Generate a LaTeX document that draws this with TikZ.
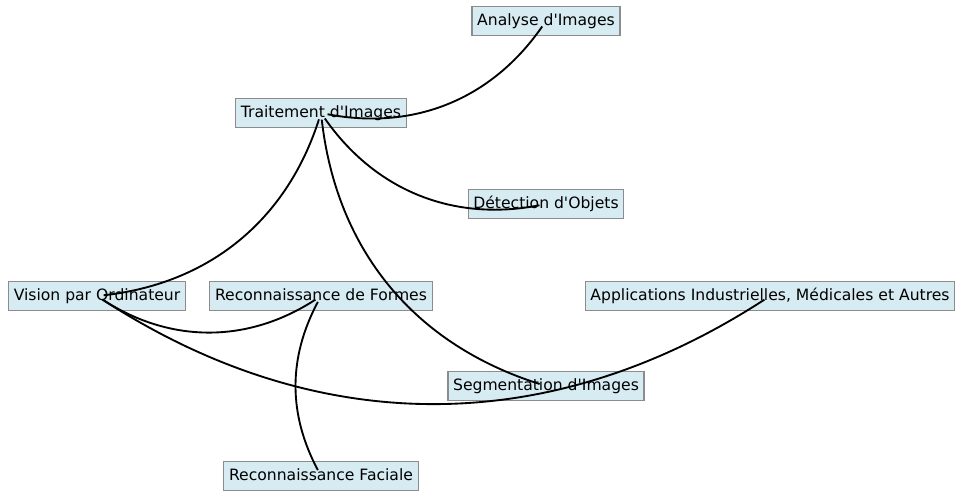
\documentclass[tikz,border=0pt]{standalone}
\usepackage{fontspec}
\setmainfont{DejaVu Sans}[Ligatures=TeXOff]
\usetikzlibrary{calc}
\definecolor{boxfill}{HTML}{D6EBF2}
\definecolor{boxline}{HTML}{8C8C8C}
\begin{document}
\begin{tikzpicture}[x=0.75pt,y=0.75pt,
  topic/.style={draw=boxline,fill=boxfill,line width=0.9pt,
    font=\fontsize{11.7}{13}\selectfont,
    inner xsep=3.9pt,inner ysep=0pt,text height=8.9pt,text depth=2.6pt,
    minimum height=21.5pt},
  link/.style={black,line width=1.4pt,shorten <=5pt,shorten >=5pt}]
\useasboundingbox (0,0) rectangle (956,-492);
% topic boxes
\node[topic] (ana) at (546,-21)  {Analyse d'Images};
\node[topic] (tra) at (321,-113) {Traitement d'Images};
\node[topic] (det) at (546,-204) {Détection d'Objets};
\node[topic] (vis) at (97,-296)  {Vision par Ordinateur};
\node[topic] (rdf) at (321,-296) {Reconnaissance de Formes};
\node[topic] (app) at (770,-296) {Applications Industrielles, Médicales et Autres};
\node[topic] (seg) at (546,-386) {Segmentation d'Images};
\node[topic] (fac) at (321,-476) {Reconnaissance Faciale};
% curved links, centre to centre, drawn above the boxes
\draw[link] (tra.center) to[bend right=33] (ana.center);
\draw[link] (tra.center) to[bend right=33] (det.center);
\draw[link] (vis.center) to[bend right=33] (tra.center);
\draw[link] (tra.center) to[bend right=33] (seg.center);
\draw[link] (vis.center) to[bend right=33] (rdf.center);
\draw[link] (vis.center) to[bend right=33] (app.center);
\draw[link] (rdf.center) to[bend right=28] (fac.center);
\end{tikzpicture}
\end{document}
